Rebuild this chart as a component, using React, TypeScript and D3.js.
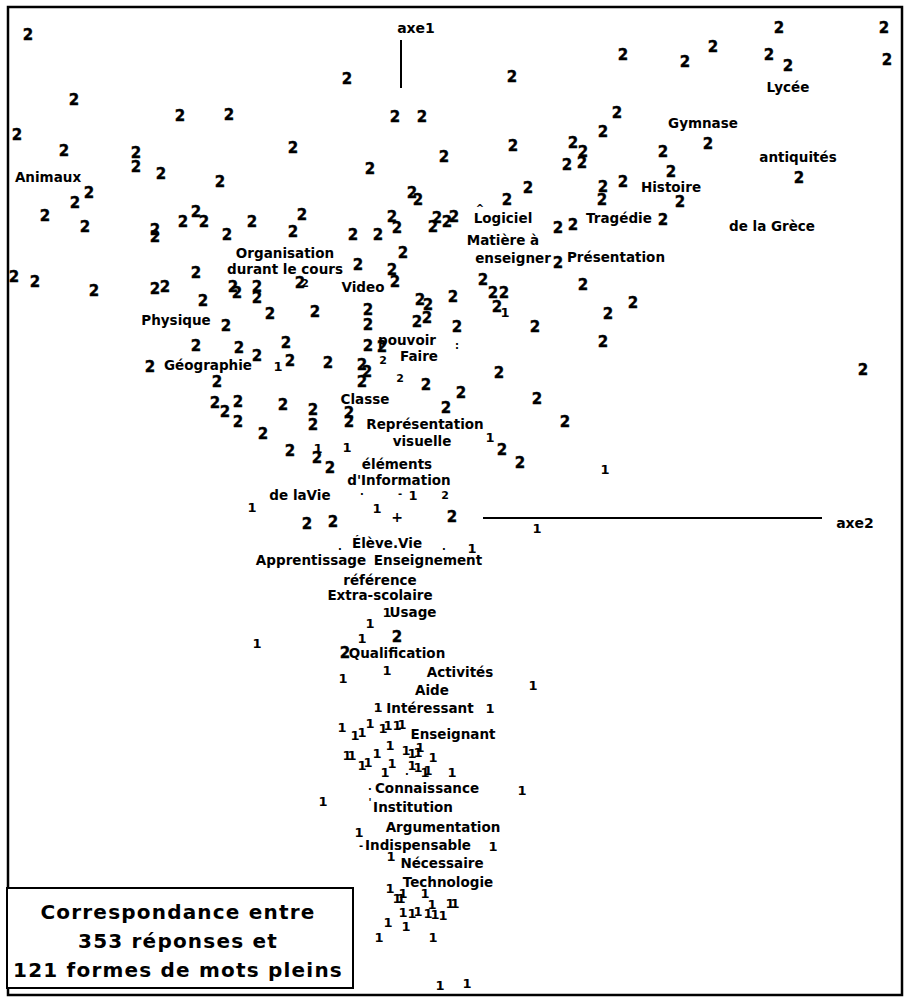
import React from "react"
import * as d3 from "d3"

// axe2 (horizontal), axe1 (vertical) coordinates of the "2" points
const twos: [number, number][] = [
  [-3.72, 4.83], [-3.26, 4.18], [-3.83, 3.83], [-3.36, 3.67], [-2.64, 3.65], [-2.64, 3.51],
  [-2.39, 3.44], [-2.2, 4.02], [-1.71, 4.03], [-1.07, 3.7], [-1.8, 3.36], [-3.11, 3.25],
  [-3.25, 3.15], [-3.55, 3.02], [-3.15, 2.91], [-2.45, 2.88], [-2.45, 2.81], [-2.17, 2.96],
  [-2.04, 3.06], [-1.96, 2.96], [-1.73, 2.83], [-1.48, 2.96], [-1.07, 2.86], [-0.98, 3.03],
  [-0.53, 4.39], [1.12, 4.41], [-0.05, 4.01], [0.22, 4.01], [2.03, 3.86], [1.13, 3.72],
  [1.73, 3.75], [1.83, 3.66], [1.67, 3.53], [1.82, 3.55], [0.44, 3.61], [-0.3, 3.49],
  [0.12, 3.25], [0.18, 3.18], [1.07, 3.18], [1.28, 3.3], [2.03, 3.31], [2.02, 3.18],
  [-0.08, 3.01], [-0.03, 2.9], [-0.47, 2.83], [-0.22, 2.83], [0.37, 3.0], [0.33, 2.91],
  [0.47, 2.96], [0.54, 3.01], [1.58, 2.9], [1.73, 2.93],
  [3.79, 4.9], [4.84, 4.9], [2.23, 4.63], [2.85, 4.56], [3.13, 4.71], [3.69, 4.63],
  [3.88, 4.52], [4.87, 4.58], [2.17, 4.05], [2.63, 3.66], [3.08, 3.74], [3.99, 3.4],
  [2.71, 3.46], [2.23, 3.36], [2.8, 3.16], [2.63, 2.98],
  [-3.86, 2.41], [-3.65, 2.36], [-3.06, 2.27], [-2.45, 2.29], [-2.35, 2.31], [-2.04, 2.45],
  [-1.97, 2.17], [-1.67, 2.31], [-1.63, 2.25], [-1.43, 2.31], [-1.43, 2.2], [-1.0, 2.35],
  [-1.3, 2.04], [-1.74, 1.92], [-2.04, 1.72], [-1.61, 1.7], [-1.43, 1.62], [-1.14, 1.75],
  [-1.1, 1.57], [-2.5, 1.51], [-1.83, 1.36], [-1.85, 1.15], [-1.75, 1.06], [-1.62, 1.16],
  [-1.62, 0.96], [-1.17, 1.13], [-1.37, 0.84], [-1.1, 0.67],
  [0.03, 2.65], [-0.42, 2.53], [-0.08, 2.48], [-0.05, 2.36], [-0.85, 2.06], [-0.32, 2.08],
  [-0.32, 1.93], [0.2, 2.18], [0.28, 2.13], [0.53, 2.21], [0.17, 1.96], [0.27, 2.0],
  [0.57, 1.91], [0.83, 2.38], [0.93, 2.25], [1.04, 2.25], [0.97, 2.11], [1.35, 1.91],
  [1.83, 2.33], [2.08, 2.04], [-0.32, 1.72], [-0.18, 1.71], [-0.72, 1.55], [-0.38, 1.53],
  [-0.33, 1.46], [-0.38, 1.36], [0.26, 1.33], [0.61, 1.25], [0.99, 1.45], [1.37, 1.19],
  [1.65, 0.96], [0.46, 1.1], [-0.87, 1.08], [-0.87, 0.93], [-0.51, 1.05], [-0.51, 0.96],
  [1.02, 0.68], [1.2, 0.55], [-0.83, 0.6], [-0.7, 0.5], [2.33, 2.15], [2.03, 1.76],
  [4.63, 1.48], [1.58, 2.55], [-0.93, -0.06], [-0.67, -0.04], [0.52, 0.01],
  [-0.03, -1.19], [-0.55, -1.35],
]

// small, partly hidden "2"
const smallTwos: [number, number][] = [
  [-0.17, 1.58], [0.0, 1.4], [0.45, 0.23], [-0.95, 2.35],
]

// the "1" points
const ones: [number, number][] = [
  [-1.22, 1.52], [1.05, 2.06], [0.9, 0.81], [2.05, 0.49], [-0.53, 0.71], [-0.82, 0.7],
  [-1.48, 0.11], [0.13, 0.23], [-0.23, 0.1], [1.37, -0.1], [0.72, -0.3], [-1.43, -1.25],
  [-0.13, -0.94], [-0.3, -1.05], [-0.38, -1.2], [-0.57, -1.6], [-0.13, -1.52], [1.33, -1.67],
  [-0.22, -1.89], [0.9, -1.9], [-0.58, -2.09], [-0.45, -2.17], [-0.38, -2.14], [-0.3, -2.05],
  [-0.17, -2.1], [-0.12, -2.07], [-0.03, -2.07], [0.02, -2.06], [-0.53, -2.37], [-0.48, -2.37],
  [-0.38, -2.47], [-0.32, -2.44], [-0.23, -2.35], [-0.1, -2.27], [-0.08, -2.45], [-0.15, -2.54],
  [0.06, -2.32], [0.12, -2.35], [0.18, -2.34], [0.2, -2.29], [0.12, -2.47], [0.18, -2.49],
  [0.25, -2.54], [0.28, -2.52], [0.33, -2.39], [0.52, -2.54], [1.22, -2.72], [-0.77, -2.83],
  [-0.41, -3.14], [0.93, -3.28], [-0.09, -3.38], [-0.1, -3.7], [-0.03, -3.8], [0.01, -3.8],
  [0.03, -3.75], [0.25, -3.75], [0.5, -3.85], [0.55, -3.85], [0.03, -3.94], [0.12, -3.95],
  [0.18, -3.93], [0.32, -3.86], [0.28, -3.95], [0.35, -3.96], [0.43, -3.97], [-0.21, -4.19],
  [-0.12, -4.04], [0.06, -4.08], [0.33, -4.19], [0.4, -4.67], [0.67, -4.65],
]

// tiny stray marks (overprinted dots, dashes)
const specks: [string, number, number][] = [
  [".", -0.6, -0.28], [".", 0.44, -0.28], ["-", 0.0, 0.25], [".", -0.38, 0.27],
  ["^", 0.8, 3.1], [":", 0.57, 1.73], [".", 0.07, -2.53], [".", -0.3, -2.68],
  ["'", -0.3, -2.84], ["-", -0.39, -3.27],
]

// word forms
const words: [string, number, number][] = [
  ["Animaux", -3.52, 3.41], ["Lycée", 3.88, 4.31], ["Gymnase", 3.03, 3.95],
  ["antiquités", 3.98, 3.61], ["Histoire", 2.71, 3.31], ["Tragédie", 2.19, 3.0],
  ["de la Grèce", 3.72, 2.92], ["Logiciel", 1.03, 3.0], ["Matière à", 1.03, 2.78],
  ["enseigner", 1.13, 2.6], ["Présentation", 2.16, 2.61], ["Organisation", -1.15, 2.65],
  ["durant le cours", -1.15, 2.49], ["Video", -0.37, 2.31], ["Physique", -2.24, 1.98],
  ["Géographie", -1.92, 1.53], ["pouvoir", 0.07, 1.78], ["Faire", 0.19, 1.62],
  ["Classe", -0.35, 1.19], ["Représentation", 0.25, 0.94], ["visuelle", 0.22, 0.77],
  ["éléments", -0.03, 0.54], ["d'Information", -0.01, 0.38], ["de laVie", -1.0, 0.23],
  ["Élève.Vie", -0.13, -0.25], ["Apprentissage", -0.89, -0.42], ["Enseignement", 0.28, -0.42],
  ["référence", -0.2, -0.62], ["Extra-scolaire", -0.2, -0.77], ["Usage", 0.13, -0.94],
  ["Qualification", -0.03, -1.35], ["Activités", 0.6, -1.54], ["Aide", 0.32, -1.72],
  ["Intéressant", 0.3, -1.9], ["Enseignant", 0.53, -2.16], ["Connaissance", 0.27, -2.7],
  ["Institution", 0.13, -2.89], ["Argumentation", 0.43, -3.09], ["Indispensable", 0.18, -3.27],
  ["Nécessaire", 0.42, -3.45], ["Technologie", 0.48, -3.64],
]

const legendLines = ["Correspondance entre", "353 réponses et", "121 formes de mots pleins"]

const W = 904
const H = 999
const font = "'DejaVu Sans', Verdana, sans-serif"

export default function App() {
  const x = d3.scaleLinear().domain([-4, 5.04]).range([0, W])
  const y = d3.scaleLinear().domain([5.18, -4.81]).range([0, H])

  return (
    <svg width={W} height={H} style={{ position: "absolute", left: 0, top: 0, background: "#fff" }}
      fontFamily={font} fontWeight="bold">
      <rect x={8} y={7} width={894} height={988} fill="none" stroke="#000" strokeWidth={2.5} />

      {/* axes */}
      <line x1={x(0.01)} x2={x(0.01)} y1={y(4.78)} y2={y(4.3)} stroke="#000" strokeWidth={2} />
      <text x={x(0.16)} y={y(4.9)} fontSize={14} textAnchor="middle" dominantBaseline="central">axe1</text>
      <line x1={x(0.83)} x2={x(4.22)} y1={y(0)} y2={y(0)} stroke="#000" strokeWidth={2} />
      <text x={x(4.55)} y={y(-0.05)} fontSize={14} textAnchor="middle" dominantBaseline="central">axe2</text>
      <text x={x(-0.03)} y={y(0.01)} fontSize={14} textAnchor="middle" dominantBaseline="central">+</text>

      {twos.map((d, i) => (
        <text key={"t" + i} x={x(d[0])} y={y(d[1])} fontSize={15} stroke="#000" strokeWidth={0.4}
          textAnchor="middle" dominantBaseline="central">2</text>
      ))}
      {smallTwos.map((d, i) => (
        <text key={"s" + i} x={x(d[0])} y={y(d[1])} fontSize={11} textAnchor="middle" dominantBaseline="central">2</text>
      ))}
      {ones.map((d, i) => (
        <text key={"o" + i} x={x(d[0])} y={y(d[1])} fontSize={13} textAnchor="middle" dominantBaseline="central">1</text>
      ))}
      {specks.map((d, i) => (
        <text key={"p" + i} x={x(d[1])} y={y(d[2])} fontSize={10} textAnchor="middle" dominantBaseline="central">{d[0]}</text>
      ))}
      {words.map((d, i) => (
        <text key={"w" + i} x={x(d[1])} y={y(d[2])} fontSize={13.5} textAnchor="middle" dominantBaseline="central">{d[0]}</text>
      ))}

      {/* legend */}
      <rect x={7} y={888} width={346} height={100} fill="#fff" stroke="#000" strokeWidth={2} />
      {legendLines.map((t, i) => (
        <text key={"l" + i} x={178} y={912 + i * 29} fontSize={20} letterSpacing={1.2}
          textAnchor="middle" dominantBaseline="central">{t}</text>
      ))}
    </svg>
  )
}
